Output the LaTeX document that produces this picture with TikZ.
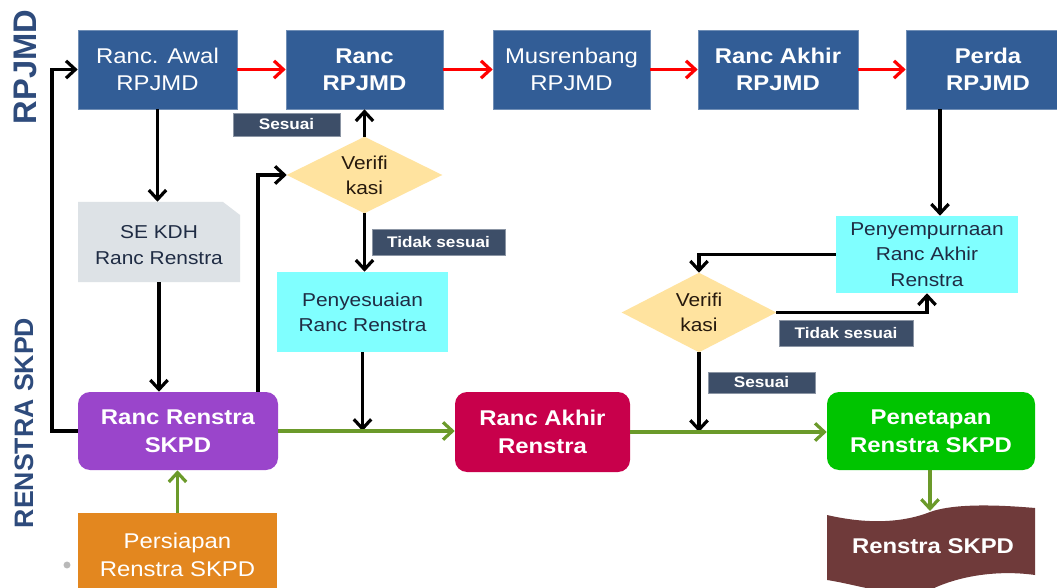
\documentclass[tikz,border=0pt]{standalone}
\usepackage{fontspec}
\setmainfont{Liberation Sans}[FakeStretch=1.12]
\newfontfamily\vfont{Liberation Sans}
\usetikzlibrary{arrows.meta}
\definecolor{topblue}{HTML}{325D96}
\definecolor{lblbox}{HTML}{3D4E68}
\definecolor{diafill}{HTML}{FFE39F}
\definecolor{cyanbox}{HTML}{80FFFF}
\definecolor{graybox}{HTML}{DDE2E6}
\definecolor{purplebox}{HTML}{9A45CB}
\definecolor{crimsonbox}{HTML}{C8004B}
\definecolor{greenbox}{HTML}{00C400}
\definecolor{brownbox}{HTML}{6F3A3A}
\definecolor{orangebox}{HTML}{E3871F}
\definecolor{greenline}{HTML}{6B9A2A}
\definecolor{darktext}{HTML}{1F2C44}
\definecolor{sidetext}{HTML}{2E4B7C}
\tikzset{
  sz/.style 2 args={minimum width=#1*0.75pt, minimum height=#2*0.75pt, inner sep=0pt},
  topbox/.style={rectangle, fill=topblue, draw=topblue!70!white, line width=0.5pt, text=white, align=center,
     font=\fontsize{16}{20}\selectfont},
  lightbox/.style={rectangle, align=center, text=darktext, font=\fontsize{14}{19}\selectfont},
  roundbox/.style={rectangle, rounded corners=9pt, text=white, align=center,
     font=\fontsize{16}{21}\selectfont\bfseries},
  lbl/.style={rectangle, fill=lblbox, draw=lblbox!60!white, line width=0.5pt, text=white,
     font=\fontsize{11.5}{13}\selectfont\bfseries},
  blk/.style={draw=black, line width=2.4pt, -{Straight Barb[length=7pt,width=13pt]}},
  blkline/.style={draw=black, line width=2.4pt},
  redarr/.style={draw=red, line width=2.4pt, -{Straight Barb[length=7pt,width=13pt]}},
  grnarr/.style={draw=greenline, line width=2.4pt, -{Straight Barb[length=7pt,width=13pt]}},
  sidelbl/.style={rotate=90, text=sidetext, font=\vfont\bfseries},
}
\begin{document}
\begin{tikzpicture}[x=0.75pt,y=-0.75pt]
\useasboundingbox (0,0) rectangle (1057,588);
\clip (0,0) rectangle (1057,588);
\fill[white] (0,0) rectangle (1057,588);

% side labels
\node[sidelbl, font=\vfont\bfseries\fontsize{24.5}{26}\selectfont] (tRP) at (25,67) {RPJMD};
\node[sidelbl, font=\vfont\bfseries\fontsize{20}{22}\selectfont] (tRS) at (24,423) {RENSTRA SKPD};

% top row
\node[topbox, sz={159}{79}] (awal) at (157.5,69.5) {Ranc. Awal\\RPJMD};
\node[topbox, sz={157}{79}, font=\fontsize{16}{20}\selectfont\bfseries] (rr) at (364.5,69.5) {Ranc\\RPJMD};
\node[topbox, sz={157}{79}] (mus) at (571.5,69.5) {Musrenbang\\RPJMD};
\node[topbox, sz={160}{79}, font=\fontsize{16}{20}\selectfont\bfseries] (rakhir) at (778,69.5) {Ranc Akhir\\RPJMD};
\node[topbox, sz={164}{79}, font=\fontsize{16}{20}\selectfont\bfseries] (perda) at (988,69.5) {Perda\\RPJMD};

% labels
\node[lbl, sz={107}{23}] (ses1) at (286.5,124.5) {Sesuai};
\node[lbl, sz={133}{26}] (tid1) at (438.5,242.5) {Tidak sesuai};
\node[lbl, sz={134}{26}] (tid2) at (846,333) {Tidak sesuai};
\node[lbl, sz={107}{21}] (ses2) at (761.5,382.5) {Sesuai};

% diamond 1
\node[sz={155}{76}] (v1) at (364.5,175) {};
\fill[diafill] (v1.west) -- (v1.north) -- (v1.east) -- (v1.south) -- cycle;
\node[lightbox, text=black!80!brown] (v1t) at (v1) {Verifi\\kasi};

% diamond 2
\node[sz={154}{79}] (v2) at (699,312.5) {};
\fill[diafill] (v2.west) -- (v2.north) -- (v2.east) -- (v2.south) -- cycle;
\node[lightbox, text=black!80!brown] (v2t) at (v2) {Verifi\\kasi};

% SE KDH document with cut corner
\node[sz={162}{80}] (sek) at (159,242) {};
\fill[graybox] (78,202) -- (223,202) -- (240,215) -- (240,282) -- (78,282) -- cycle;
\node[lightbox] (sekt) at (159,245) {SE KDH\\Ranc Renstra};

% cyan boxes
\node[lightbox, fill=cyanbox, sz={171}{80}] (penyes) at (362.5,312) {Penyesuaian\\Ranc Renstra};
\node[lightbox, fill=cyanbox, sz={182}{77}] (penyemp) at (927,254.5) {Penyempurnaan\\Ranc Akhir\\Renstra};

% bottom row
\node[roundbox, fill=purplebox, sz={200}{78}] (ren) at (178,431) {Ranc Renstra\\SKPD};
\node[roundbox, fill=crimsonbox, sz={175}{80}] (rak) at (542.5,432) {Ranc Akhir\\Renstra};
\node[roundbox, fill=greenbox, sz={208}{78}] (penet) at (931,431) {Penetapan\\Renstra SKPD};
\node[rectangle, fill=orangebox, sz={199}{84}, text=white, align=center, font=\fontsize{16}{21}\selectfont] (pers) at (177.5,555) {Persiapan\\Renstra SKPD};
\fill[gray!55] (67,565) circle[radius=2.6pt];

% document shape
\node[sz={208}{70}] (doc) at (931,545) {};
\fill[brownbox] (827,515) .. controls (870,525) and (905,522) .. (930,512)
  .. controls (955,503) and (1000,505) .. (1035,508) -- (1035,575)
  .. controls (1000,570) and (960,575) .. (930,590)
  .. controls (900,600) and (860,585) .. (827,580) -- cycle;
\node[text=white, font=\fontsize{16}{20}\selectfont\bfseries] (doct) at (933,546) {Renstra SKPD};
\coordinate (doctop) at (930,511);

% helper coordinates
\coordinate (lx) at (52,0);
\coordinate (vx) at (258,0);
\coordinate (px) at (940,0);

% red arrows
\draw[redarr] (awal.east) -- (rr.west);
\draw[redarr] (rr.east) -- (mus.west);
\draw[redarr] (mus.east) -- (rakhir.west);
\draw[redarr] (rakhir.east) -- (perda.west);

% black arrows
\draw[blk] (ren.west) -- (ren.west -| lx) |- (awal.west);
\draw[blk] (awal.south) -- (awal.south |- sek.north);
\draw[blk] (sek.south) -- (sek.south |- ren.north);
\draw[blk] (ren.north -| vx) |- (v1.west);
\draw[blk] (v1.north) -- (v1.north |- rr.south);
\draw[blk] (v1.south) -- (v1.south |- penyes.north);
\draw[blk] (penyes.south) -- (penyes.south |- ren.east);
\draw[blk] (perda.south -| px) -- (px |- penyemp.north);
\draw[blk] (penyemp.west) -| (v2.north);
\draw[blk] (v2.east) -| (penyemp.south);
\draw[blk] (v2.south) -- (v2.south |- rak.east);

% green arrows
\draw[grnarr] (ren.east) -- (ren.east -| rak.west);
\draw[grnarr] (rak.east) -- (rak.east -| penet.west);
\draw[grnarr] (penet.south -| doctop) -- (doctop);
\draw[grnarr] (pers.north) -- (pers.north |- ren.south);
\end{tikzpicture}
\end{document}
